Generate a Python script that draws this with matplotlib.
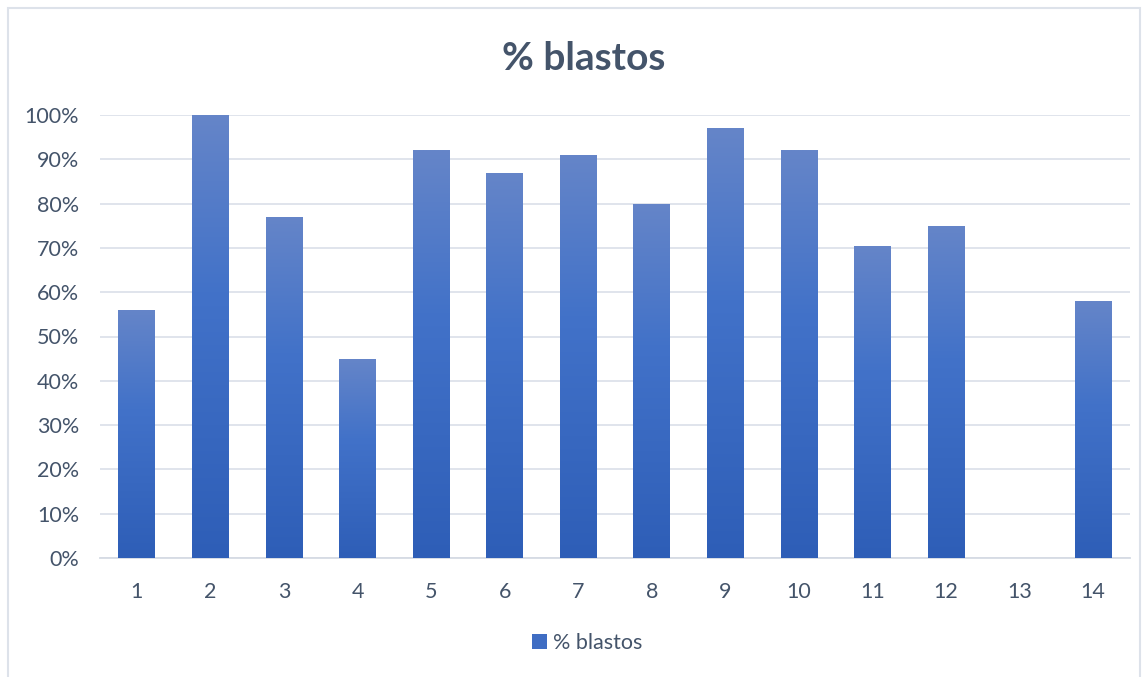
import numpy as np
import matplotlib.pyplot as plt
from matplotlib.colors import LinearSegmentedColormap
from matplotlib.patches import Rectangle
from matplotlib.ticker import PercentFormatter

categories = [str(i) for i in range(1, 15)]
values = [56, 100, 77, 45, 92, 87, 91, 80, 97, 92, 70.5, 75, 0, 58]
series_name = "% blastos"

plt.rcParams['font.family'] = ['Lato', 'DejaVu Sans']
text_color = "#44546A"
tick_color = "#44546A"
grid_color = "#DDE2EA"

fig = plt.figure(figsize=(11.46, 6.77), dpi=100)
ax = fig.add_axes([100 / 1146, 1 - 558 / 677, 1030 / 1146, 443 / 677])

# degradado vertical por barra (claro arriba, oscuro abajo)
cmap = LinearSegmentedColormap.from_list(
    "grad", [(0.0, "#2E5EB7"), (0.6, "#4272C9"), (1.0, "#6585C8")])
grad = np.linspace(0, 1, 256).reshape(-1, 1)

x = np.arange(len(categories))
width = 0.5
bars = ax.bar(x, values, width=width, color="none", edgecolor="none", zorder=3)
for b in bars:
    h = b.get_height()
    if h <= 0:
        continue
    x0 = b.get_x()
    im = ax.imshow(grad, cmap=cmap, origin="lower", aspect="auto",
                   extent=(x0, x0 + width, 0, h), zorder=3, interpolation="bilinear")
    im.set_clip_path(b)

ax.set_xlim(-0.5, len(categories) - 0.5)
ax.set_ylim(0, 100)
ax.set_yticks(np.arange(0, 101, 10))
ax.yaxis.set_major_formatter(PercentFormatter(decimals=0))
ax.set_xticks(x)
ax.set_xticklabels(categories)
ax.grid(axis="y", color=grid_color, linewidth=1.3, zorder=0)
ax.set_axisbelow(True)
for s in ["top", "right", "left"]:
    ax.spines[s].set_visible(False)
ax.spines["bottom"].set_color("#D5DBE4")
ax.spines["bottom"].set_linewidth(1.3)
ax.tick_params(axis="both", length=0, labelsize=15.5, colors=tick_color)
ax.tick_params(axis="x", pad=17)
ax.tick_params(axis="y", pad=15)

fig.text(584 / 1146, 1 - 58 / 677, series_name, ha="center", va="center",
         fontsize=28, fontweight="bold", color=text_color)

# leyenda
handle = Rectangle((0, 0), 1, 1, facecolor="#3F6DC3")
fig.legend([handle], [series_name], loc="center", bbox_to_anchor=(587 / 1146, 1 - 643 / 677),
           frameon=False, fontsize=15.5, labelcolor=tick_color,
           handlelength=0.7, handleheight=0.7, handletextpad=0.3)

# borde del gráfico
fig.patches.append(Rectangle((8 / 1146, -2 / 677), 1132 / 1146, 671 / 677,
                             transform=fig.transFigure, fill=False,
                             edgecolor="#DDE2EA", linewidth=1.5))

fig.savefig("out.png", dpi=100, facecolor="white")
